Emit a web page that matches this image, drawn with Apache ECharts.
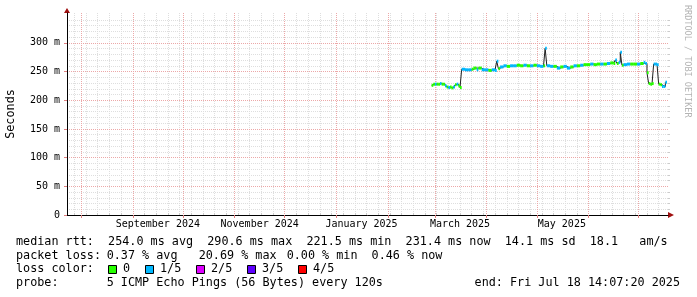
<!DOCTYPE html>
<html><head><meta charset="utf-8">
<script src="https://cdn.jsdelivr.net/npm/echarts@6/dist/echarts.min.js"></script>
<style>html,body{margin:0;padding:0;background:#fff}#c{width:697px;height:297px}</style>
</head><body><div id="c"></div>
<script>
// ---- data ----
const dates = ['2025-02-27','2025-02-28','2025-03-01','2025-03-02','2025-03-03','2025-03-04','2025-03-05','2025-03-06','2025-03-07','2025-03-08',
'2025-03-09','2025-03-10','2025-03-11','2025-03-12','2025-03-13','2025-03-14','2025-03-15','2025-03-16','2025-03-17','2025-03-19',
'2025-03-21','2025-03-23','2025-03-24','2025-03-26','2025-03-27','2025-03-29','2025-03-31','2025-04-02','2025-04-04','2025-04-06',
'2025-04-07','2025-04-08','2025-04-09','2025-04-11','2025-04-13','2025-04-15','2025-04-17','2025-04-19','2025-04-21','2025-04-23',
'2025-04-25','2025-04-27','2025-04-29','2025-05-01','2025-05-03','2025-05-05','2025-05-06','2025-05-07','2025-05-09','2025-05-11',
'2025-05-13','2025-05-15','2025-05-17','2025-05-19','2025-05-21','2025-05-23','2025-05-25','2025-05-27','2025-05-29','2025-05-31',
'2025-06-02','2025-06-04','2025-06-06','2025-06-08','2025-06-10','2025-06-12','2025-06-14','2025-06-16','2025-06-17','2025-06-18',
'2025-06-19','2025-06-20','2025-06-21','2025-06-22','2025-06-24','2025-06-26','2025-06-28','2025-06-30','2025-07-02','2025-07-04',
'2025-07-05','2025-07-06','2025-07-07','2025-07-08','2025-07-09','2025-07-10','2025-07-11','2025-07-12','2025-07-13','2025-07-14',
'2025-07-15','2025-07-16','2025-07-17'];
const medianMs = [226,228,228,228,228,229,228,228,225,223,
222,223,221.5,223,227,228,225,222,254,253,
253,254,256,253,256,253,253,252,253,252,
268,255,258,260,259,260,260,261,260,261,
260,260,261,260,259,260,290.6,260,259,259,
256,258,259,256,258,260,260,261,262,262,
263,262,263,263,263,264,265,264,270,264,
266,283.5,261,262,263,263,263,263,264,266,
264,248,229,228,229,263,263,262,228,227,
224,224,231.4];
const lossIdx = [0,0,1,0,0,1,0,0,1,0,
1,0,0,1,0,1,0,0,1,1,
1,0,0,1,0,1,1,0,1,1,
1,0,1,1,0,1,1,0,0,1,
0,1,0,1,1,0,1,1,1,0,
1,0,1,1,0,1,0,1,0,0,
1,0,0,1,0,1,0,0,1,0,
1,1,0,1,1,0,0,1,0,1,
1,0,0,0,0,1,1,1,0,0,
1,1,1];
const dataEnd = '2025-07-18';
const rangeStart = '2024-07-23T14:07:20';
const rangeEnd = '2025-07-18T14:07:20';
const yMax = 352;
const yMajorTicks = [0,50,100,150,200,250,300];
const monthLabels = ['September 2024','November 2024','January 2025','March 2025','May 2025'];
const monthLabelDates = ['2024-09-16','2024-11-16','2025-01-16','2025-03-16','2025-05-16'];
const lossColors = ['#26ff00','#00b8ff','#dd00ff','#5e00ff','#ff0000'];
const lossLabels = ['0','1/5','2/5','3/5','4/5'];
const rttStats = 'median rtt:  254.0 ms avg  290.6 ms max  221.5 ms min  231.4 ms now  14.1 ms sd  18.1   am/s';
const lossStatsHead = 'packet loss:';
const lossStats = ['0.37 % avg','20.69 % max','0.00 % min','0.46 % now'];
const probeHead = 'probe:';
const probeText = '5 ICMP Echo Pings (56 Bytes) every 120s';
const endText = 'end: Fri Jul 18 14:07:20 2025';
const watermark = 'RRDTOOL / TOBI OETIKER';

// ---- helpers ----
function ts(s){ // parse as UTC
  const m = s.match(/(\d+)-(\d+)-(\d+)(?:T(\d+):(\d+):(\d+))?/);
  return Date.UTC(+m[1], +m[2]-1, +m[3], +(m[4]||0), +(m[5]||0), +(m[6]||0));
}
const T0 = ts(rangeStart), T1 = ts(rangeEnd);
const times = dates.map(ts);
const lineData = times.map((t,i)=>[t, medianMs[i]]);
const bandData = times.map((t,i)=>[t, i+1<times.length ? times[i+1] : ts(dataEnd), medianMs[i], lossIdx[i]]);

// grid tick positions (month boundaries, weekly Sundays)
const monthTicks = [];
for (let y=2024, m=0; ; ) { const t = Date.UTC(y,m,1); if (t>T1) break; if (t>=T0) monthTicks.push(t); m++; if (m>11){m=0;y++;} }
const weekTicks = [];
for (let t = Date.UTC(2024,6,28); t<=T1; t+=7*86400000) if (!monthTicks.includes(t)) weekTicks.push(t);
const labelTimes = monthLabelDates.map(ts);
const yMinor = []; for (let v=10; v<=yMax; v+=10) if (v%50!==0) yMinor.push(v);

const FONT = 'DejaVu Sans Mono';
const MGRID = '#eca8a8', GRID = '#dedede';
const chart = echarts.init(document.getElementById('c'), null, {renderer:'canvas'});

const gridBox = {left:67, right:29, top:13, bottom:82, containLabel:false, outerBoundsMode:'none'};
const commonX = {type:'value', min:T0, max:T1, gridIndex:0};
const commonY = {type:'value', min:0, max:yMax, gridIndex:0};

const legendFont = '11.78px "DejaVu Sans Mono"';
const graphics = [];
function txt(x,y,t,align){ graphics.push({type:'text', x, y, silent:true, style:{text:t, font:legendFont, fill:'#000', verticalAlign:'middle', textAlign:align||'left'}}); }
txt(16, 241.5, rttStats);
txt(16, 255.5, lossStatsHead);
const lossXs = [106.7, 198.7, 286.7, 371.6];
lossStats.forEach((s,i)=>txt(lossXs[i], 255.5, s));
txt(16, 269.3, 'loss color:');
const boxXs = [108,145,196,247,298];
lossLabels.forEach((l,i)=>{
  graphics.push({type:'rect', silent:true, shape:{x:boxXs[i]+0.5, y:265.5, width:8, height:8}, style:{fill:lossColors[i], stroke:'#000', lineWidth:1}});
  txt(boxXs[i]+15, 269.3, l);
});
txt(16, 283.3, probeHead);
txt(106.7, 283.3, probeText);
txt(680, 283.3, endText, 'right');
graphics.push({type:'text', x:687, y:5, rotation:-Math.PI/2, silent:true, style:{text:watermark, font:'8.5px "DejaVu Sans Mono"', fill:'#b4b4b4', verticalAlign:'middle', textAlign:'left'}});

chart.setOption({
  animation:false,
  backgroundColor:'#fff',
  grid:[gridBox],
  xAxis:[
    Object.assign({}, commonX, {z:1, axisLine:{show:true, lineStyle:{color:'#000', width:1}},
      axisTick:{show:true, customValues:monthTicks, length:3, lineStyle:{color:'#e08080'}},
      splitLine:{show:true, lineStyle:{color:MGRID, width:1, type:[1,1]}},
      axisLabel:{show:true, customValues:labelTimes, margin:4, fontFamily:FONT, fontSize:10, color:'#000',
        formatter:(v)=>{const i=labelTimes.indexOf(v); return i>=0?monthLabels[i]:'';}}}),
    Object.assign({}, commonX, {z:0, axisLine:{show:false},
      axisTick:{show:true, customValues:weekTicks, length:2, lineStyle:{color:'#cccccc'}},
      splitLine:{show:true, lineStyle:{color:GRID, width:1, type:[1,1]}},
      axisLabel:{show:false}})
  ],
  yAxis:[
    Object.assign({}, commonY, {z:1, name:'Seconds', nameLocation:'middle', nameGap:50,
      nameTextStyle:{fontFamily:FONT, fontSize:11.78, color:'#000'},
      axisLine:{show:true, lineStyle:{color:'#000', width:1}},
      axisTick:{show:true, customValues:yMajorTicks, length:3, lineStyle:{color:'#e08080'}},
      splitLine:{show:true, lineStyle:{color:MGRID, width:1, type:[1,1]}},
      axisLabel:{show:true, customValues:yMajorTicks, margin:7, fontFamily:FONT, fontSize:10, color:'#000',
        formatter:(v)=> v===0 ? '0' : v+' m'}}),
    Object.assign({}, commonY, {z:0, axisLine:{show:false},
      axisTick:{show:true, customValues:yMinor, length:2, lineStyle:{color:'#cccccc'}},
      splitLine:{show:true, lineStyle:{color:GRID, width:1, type:[1,1]}},
      axisLabel:{show:false}})
  ],
  series:[
    {type:'line', xAxisIndex:0, yAxisIndex:0, data:lineData, step:'end', symbol:'none', silent:true,
      lineStyle:{color:'#202020', width:1}, z:3},
    {type:'custom', xAxisIndex:0, yAxisIndex:0, data:bandData, silent:true, z:4,
      renderItem:(params, api)=>{
        const p0 = api.coord([api.value(0), api.value(2)]);
        const p1 = api.coord([api.value(1), api.value(2)]);
        return {type:'rect', shape:{x:p0[0], y:p0[1]-1.5, width:Math.max(1,p1[0]-p0[0]), height:3},
          style:{fill: lossColors[api.value(3)]}};
      }}
  ],
  graphic: graphics
});

// axis arrows placed from the axis scales
const o = chart.convertToPixel({gridIndex:0}, [T0, 0]);
const e = chart.convertToPixel({gridIndex:0}, [T1, yMax]);
chart.setOption({graphic: graphics.concat([
  {type:'polygon', silent:true, shape:{points:[[e[0],o[1]-3],[e[0]+6,o[1]],[e[0],o[1]+3]]}, style:{fill:'#a01010'}},
  {type:'polygon', silent:true, shape:{points:[[o[0]-3,e[1]],[o[0],e[1]-5],[o[0]+3,e[1]]]}, style:{fill:'#a01010'}}
])});
</script></body></html>
